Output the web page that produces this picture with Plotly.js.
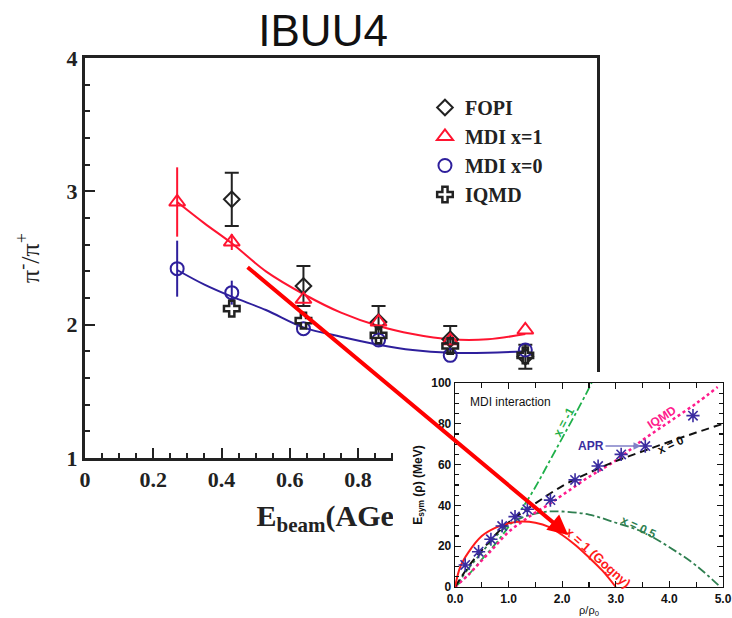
<!DOCTYPE html>
<html>
<head>
<meta charset="utf-8">
<script src="https://cdn.plot.ly/plotly-3.0.1.min.js"></script>
<style>
  html, body { margin:0; padding:0; background:#fff; overflow:hidden; }
  #main, #inset { position:absolute; left:0; top:0; width:732px; height:618px; }
</style>
</head>
<body>
<div id="main"></div>
<div id="inset"></div>
<script>
// ---------- main panel data (pi-/pi+ vs beam energy) ----------
const mainX     = [0.27, 0.43, 0.64, 0.86, 1.07, 1.29];
const mdi1Y     = [2.92, 2.62, 2.19, 2.02, 1.88, 1.96];
const mdi1Err   = [0.26, 0.06, 0, 0, 0, 0];
const mdi0Y     = [2.42, 2.24, 1.97, 1.885, 1.77, 1.81];
const mdi0Err   = [0.21, 0.09, 0, 0, 0, 0];
const fopiX     = [0.43, 0.64, 0.86, 1.07, 1.29];
const fopiY     = [2.94, 2.29, 2.02, 1.89, 1.76];
const fopiErr   = [0.20, 0.15, 0.12, 0.10, 0.09];
const iqmdX     = [0.43, 0.64, 0.86, 1.07, 1.29];
const iqmdY     = [2.12, 2.03, 1.92, 1.84, 1.77];
const curveX    = [0.27, 0.35, 0.43, 0.53, 0.64, 0.75, 0.86, 0.96, 1.07, 1.18, 1.29];
const mdi1Curve = [2.92, 2.76, 2.61, 2.40, 2.23, 2.09, 1.99, 1.93, 1.89, 1.89, 1.93];
const mdi0Curve = [2.41, 2.30, 2.21, 2.11, 1.98, 1.91, 1.85, 1.81, 1.79, 1.79, 1.80];
const legendNames = ['FOPI', 'MDI x=1', 'MDI x=0', 'IQMD'];

// ---------- inset data (Esym vs rho/rho0) ----------
const gognyX = [0, 0.1, 0.25, 0.5, 0.75, 1.0, 1.25, 1.5, 1.75, 2.0, 2.25, 2.5, 2.75, 3.0];
const gognyY = [0, 10, 17, 25, 29, 31.2, 32.1, 31.5, 29.5, 25.5, 20.5, 14.5, 8, 0];
const x0X    = [0, 0.25, 0.5, 0.75, 1.0, 1.25, 1.5, 2.0, 2.5, 3.0, 3.5, 4.0, 4.5, 5.0];
const x0Y    = [0, 10, 18, 25.5, 31.6, 36.5, 41, 49.5, 56, 61.7, 66.5, 71.2, 75.7, 80];
const xm1X   = [0, 0.25, 0.5, 0.75, 1.0, 1.25, 1.5, 1.75, 2.0, 2.25, 2.5, 2.6];
const xm1Y   = [0, 6, 13.5, 21, 29.5, 38.5, 49, 61, 73, 85, 97.5, 103];
const x05X   = [0, 0.25, 0.5, 0.75, 1.0, 1.25, 1.5, 1.75, 2.0, 2.5, 3.0, 3.5, 4.0, 4.5, 4.95];
const x05Y   = [0, 9, 17, 24.5, 30.5, 34, 36, 37, 37, 35.5, 31.5, 27, 19.5, 10.5, 0];
const iqmdEX = [0, 0.25, 0.5, 0.75, 1.0, 1.25, 1.5, 1.75, 2.0, 2.5, 3.0, 3.5, 4.0, 4.5, 4.9];
const iqmdEY = [0, 6, 13, 20, 27, 32, 36.5, 40.5, 45, 54, 62, 72, 81, 90, 98];
const aprX   = [0.19, 0.44, 0.67, 0.88, 1.12, 1.35, 1.78, 2.24, 2.67, 3.10, 3.55, 4.44];
const aprY   = [10.8, 17.3, 23.4, 29.9, 34.5, 38.1, 42.6, 52.5, 59.3, 65, 69.1, 84];

const RED = '#ff1430', BLUE = '#2e1f9c', BLK = '#222';
const SERIF = 'Liberation Serif, Times New Roman, serif';
const SANS = 'Liberation Sans, Arial, sans-serif';

// ================= MAIN CHART =================
const mainTraces = [
  {x: curveX, y: mdi1Curve, mode: 'lines', line: {color: RED, width: 2, shape: 'spline'}, showlegend: false},
  {x: curveX, y: mdi0Curve, mode: 'lines', line: {color: BLUE, width: 2, shape: 'spline'}, showlegend: false},
  {x: fopiX, y: fopiY, name: legendNames[0], mode: 'markers',
   marker: {symbol: 'diamond-open', size: 12, color: BLK, line: {width: 2, color: BLK}},
   error_y: {type: 'data', array: fopiErr, color: BLK, thickness: 2, width: 7}},
  {x: mainX, y: mdi1Y, name: legendNames[1], mode: 'markers',
   marker: {symbol: 'triangle-up-open', size: 14, color: RED, line: {width: 2, color: RED}},
   error_y: {type: 'data', array: mdi1Err, color: RED, thickness: 2, width: 0}},
  {x: mainX, y: mdi0Y, name: legendNames[2], mode: 'markers',
   marker: {symbol: 'circle-open', size: 13, color: BLUE, line: {width: 2, color: BLUE}},
   error_y: {type: 'data', array: mdi0Err, color: BLUE, thickness: 2, width: 0}},
  {x: iqmdX, y: iqmdY, name: legendNames[3], mode: 'markers',
   marker: {symbol: 'cross-open', size: 13, color: BLK, line: {width: 2.5, color: BLK}}}
];

const mainLayout = {
  width: 732, height: 618,
  margin: {l: 85, r: 135, t: 58, b: 160},
  paper_bgcolor: '#fff', plot_bgcolor: '#fff',
  title: {text: 'IBUU4', font: {family: SANS, size: 44, color: '#111'},
          xref: 'paper', x: 0.465, xanchor: 'center', yref: 'container', y: 0.95, yanchor: 'middle'},
  xaxis: {
    range: [0, 1.5], tick0: 0, dtick: 0.2, showgrid: false, zeroline: false,
    showline: true, linewidth: 3, linecolor: BLK, mirror: true,
    ticks: 'inside', ticklen: 10, tickwidth: 2, tickcolor: BLK,
    minor: {dtick: 0.05, ticks: 'inside', ticklen: 5, tickwidth: 2, tickcolor: BLK, showgrid: false},
    tickfont: {family: SERIF, size: 22, weight: 700, color: BLK},
    title: {text: 'E<sub>beam</sub>(AGeV)', font: {family: SERIF, size: 30, weight: 700, color: BLK}, standoff: 14}
  },
  yaxis: {
    range: [1, 4], tick0: 1, dtick: 1, showgrid: false, zeroline: false,
    showline: true, linewidth: 3, linecolor: BLK, mirror: true,
    ticks: 'inside', ticklen: 10, tickwidth: 2, tickcolor: BLK,
    minor: {dtick: 0.2, ticks: 'inside', ticklen: 5, tickwidth: 2, tickcolor: BLK, showgrid: false},
    tickfont: {family: SERIF, size: 22, weight: 700, color: BLK},
    title: {text: 'π<sup>-</sup>/π<sup>+</sup>', font: {family: SERIF, size: 26, color: BLK}, standoff: 20}
  },
  legend: {x: 0.664, y: 0.925, xanchor: 'left', yanchor: 'top', bgcolor: 'rgba(0,0,0,0)',
           font: {family: SERIF, size: 20, weight: 700, color: BLK}, tracegroupgap: 0},
  showlegend: true
};

Plotly.newPlot('main', mainTraces, mainLayout, {staticPlot: true, displayModeBar: false});

// ================= INSET CHART =================
const insetTraces = [
  {x: xm1X, y: xm1Y, mode: 'lines', line: {color: '#1fb04a', width: 1.8, dash: 'dashdot', shape: 'spline'}},
  {x: x05X, y: x05Y, mode: 'lines', line: {color: '#2f7f50', width: 1.8, dash: 'dashdot', shape: 'spline'}},
  {x: iqmdEX, y: iqmdEY, mode: 'lines', line: {color: '#ff1a8c', width: 2.5, dash: 'dot', shape: 'spline'}},
  {x: x0X, y: x0Y, mode: 'lines', line: {color: '#111', width: 2, dash: '8px,5px', shape: 'spline'}},
  {x: gognyX, y: gognyY, mode: 'lines', line: {color: '#ff1a1a', width: 2, shape: 'spline'}},
  {x: aprX, y: aprY, mode: 'markers',
   marker: {symbol: 'asterisk-open', size: 11, color: '#3a2ca0', line: {width: 1.6, color: '#3a2ca0'}}}
];

const axFont = {family: SANS, size: 12, weight: 700, color: '#111'};
const insetLayout = {
  width: 732, height: 618,
  margin: {l: 455, r: 9, t: 383, b: 31},
  paper_bgcolor: 'rgba(0,0,0,0)', plot_bgcolor: '#fff',
  showlegend: false,
  xaxis: {
    range: [0, 5], tick0: 0, dtick: 1, tickformat: '.1f', showgrid: false, zeroline: false,
    showline: true, linewidth: 1.3, linecolor: '#111', mirror: 'ticks',
    ticks: 'inside', ticklen: 6, tickwidth: 1.2, tickcolor: '#111',
    minor: {dtick: 0.5, ticks: 'inside', ticklen: 5, tickwidth: 1.2, tickcolor: '#111', showgrid: false},
    tickfont: axFont,
    title: {text: 'ρ/ρ<sub>0</sub>', font: {family: SANS, size: 11, color: '#111'}, standoff: 4}
  },
  yaxis: {
    range: [0, 100], tick0: 0, dtick: 20, showgrid: false, zeroline: false,
    showline: true, linewidth: 1.3, linecolor: '#111', mirror: 'ticks',
    ticks: 'inside', ticklen: 6, tickwidth: 1.2, tickcolor: '#111',
    minor: {dtick: 5, ticks: 'inside', ticklen: 4, tickwidth: 1.2, tickcolor: '#111', showgrid: false},
    tickfont: axFont,
    title: {text: 'E<sub>sym</sub> (ρ) (MeV)', font: {family: SANS, size: 12, weight: 700, color: '#111'}, standoff: 6}
  },
  shapes: [
    {type: 'rect', xref: 'paper', yref: 'paper', x0: -0.2313, x1: 1.04, y0: -0.2, y1: 1.054,
     fillcolor: '#fff', line: {width: 0}, layer: 'below'}
  ],
  annotations: [
    {x: 0.24, y: 90.7, xref: 'x', yref: 'y', text: 'MDI interaction', showarrow: false,
     xanchor: 'left', yanchor: 'middle', font: {family: SANS, size: 12, color: '#111'}},
    {x: 2.03, y: 81, xref: 'x', yref: 'y', text: 'x = -1', showarrow: false, textangle: -62,
     font: {family: SANS, size: 12, weight: 700, color: '#1fb04a'}},
    {x: 3.87, y: 83.3, xref: 'x', yref: 'y', text: 'IQMD', showarrow: false, textangle: -33,
     font: {family: SANS, size: 12, weight: 700, color: '#ff1a8c'}},
    {x: 4.02, y: 69.6, xref: 'x', yref: 'y', text: 'x = 0', showarrow: false, textangle: -25,
     font: {family: SANS, size: 12, weight: 700, color: '#111'}},
    {x: 3.42, y: 29.4, xref: 'x', yref: 'y', text: 'x = 0.5', showarrow: false, textangle: 25,
     font: {family: SANS, size: 12, weight: 700, color: '#2f7f50'}},
    {x: 2.67, y: 14.7, xref: 'x', yref: 'y', text: 'x = 1 (Gogny)', showarrow: false, textangle: 42,
     font: {family: SANS, size: 13, weight: 700, color: '#ff1a1a'}},
    {x: 3.47, y: 69.1, xref: 'x', yref: 'y', text: 'APR', showarrow: true, ax: -50, ay: 0,
     arrowhead: 2, arrowsize: 1, arrowwidth: 1.5, arrowcolor: '#8080c8',
     font: {family: SANS, size: 12, weight: 700, color: '#3a2ca0'}},
    {x: 2.11, y: 25.5, xref: 'x', yref: 'y', text: '', showarrow: true, ax: -322, ay: -269,
     arrowhead: 2, arrowsize: 1.0, arrowwidth: 4, arrowcolor: '#ff0000', standoff: 0}
  ]
};

Plotly.newPlot('inset', insetTraces, insetLayout, {staticPlot: true, displayModeBar: false});
</script>
</body>
</html>
